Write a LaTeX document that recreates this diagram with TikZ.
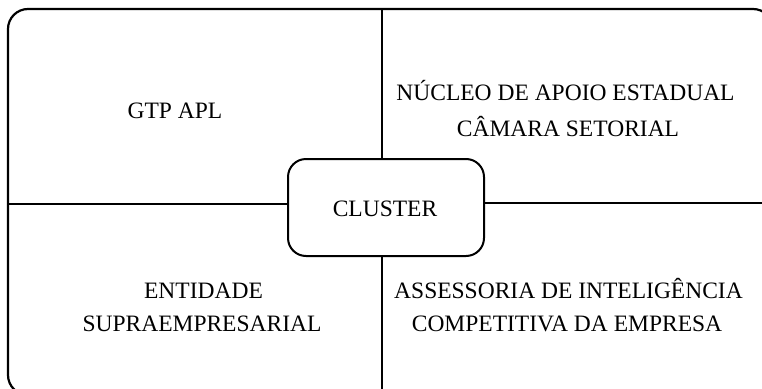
\documentclass[tikz,border=0pt]{standalone}
\usepackage{fontspec}
\setmainfont{Liberation Serif}
\begin{document}
\begin{tikzpicture}[x=1pt,y=-1pt,
  lbl/.style={anchor=base,inner sep=0pt,font=\fontsize{23.5}{34}\selectfont},
  frame/.style={line width=2.2pt,rounded corners=20pt},
  divider/.style={line width=1.6pt},
  core/.style={draw,line width=2pt,rounded corners=18pt,minimum width=196pt,minimum height=97pt,inner sep=0pt,font=\fontsize{23.5}{34}\selectfont}]
\useasboundingbox (0,0) rectangle (762,388);
\clip (0,0) rectangle (762,388);
\draw[frame] (8,9) rectangle (773,395);
\node[core] (c) at (386,207.5) {};
\node[lbl] (cl) at (385,216) {CLUSTER};
\coordinate (vt) at (382,9);
\coordinate (vb) at (382,395);
\coordinate (hl) at (8,204);
\coordinate (hr) at (773,203);
\draw[divider] (vt) -- (vt |- c.north);
\draw[divider] (vb) -- (vb |- c.south);
\draw[divider] (hl) -- (hl -| c.west);
\draw[divider] (hr) -- (hr -| c.east);
\node[lbl] (gtp) at (175,118) {GTP APL};
\node[lbl] (nuc1) at (565.5,100) {NÚCLEO DE APOIO ESTADUAL};
\node[lbl] (nuc2) at (568,136) {CÂMARA SETORIAL};
\node[lbl] (ent1) at (203.5,298) {ENTIDADE};
\node[lbl] (ent2) at (202,331) {SUPRAEMPRESARIAL};
\node[lbl] (ass1) at (568.5,298) {ASSESSORIA DE INTELIGÊNCIA};
\node[lbl] (ass2) at (567,331) {COMPETITIVA DA EMPRESA};
\end{tikzpicture}
\end{document}
